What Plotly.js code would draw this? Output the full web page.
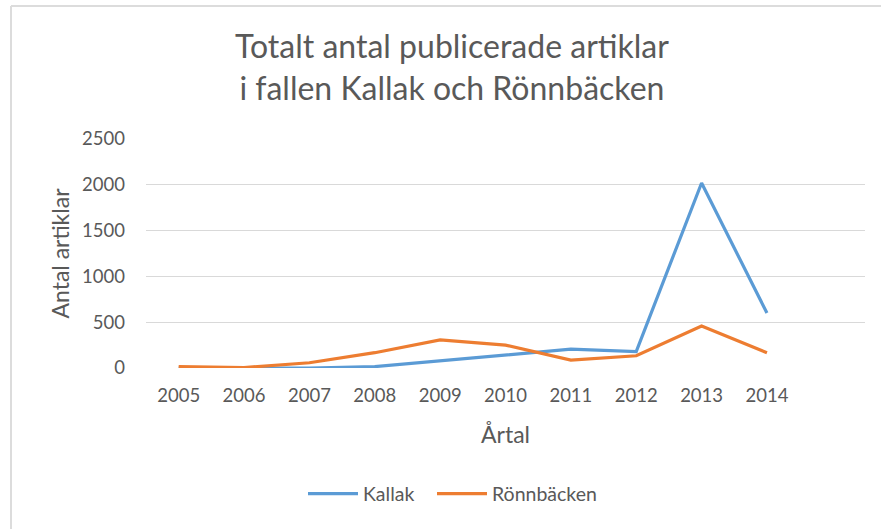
<!DOCTYPE html>
<html>
<head>
<meta charset="utf-8">
<script src="https://cdn.plot.ly/plotly-3.0.1.min.js"></script>
<style>
  html, body { margin: 0; padding: 0; background: #ffffff; }
  #chart { width: 881px; height: 529px; }
</style>
</head>
<body>
<div id="chart"></div>
<script>
const years = [2005, 2006, 2007, 2008, 2009, 2010, 2011, 2012, 2013, 2014];
const kallak = [0, 0, 0, 15, 80, 140, 205, 180, 2020, 600];
const ronnbacken = [15, 5, 57, 167, 306, 250, 87, 134, 458, 167];
const yTicks = [0, 500, 1000, 1500, 2000, 2500];

const FONT = 'Lato, "Open Sans", sans-serif';
const GRAY = '#595959';

const traces = [
  { x: years, y: kallak, name: 'Kallak', type: 'scatter', mode: 'lines',
    line: { color: '#5B9BD5', width: 3.2 }, legend: 'legend' },
  { x: years, y: ronnbacken, name: 'Rönnbäcken', type: 'scatter', mode: 'lines',
    line: { color: '#ED7D31', width: 3.2 }, legend: 'legend2' }
];

const legendStyle = {
  orientation: 'h', xanchor: 'left', y: -0.55, yanchor: 'middle',
  font: { family: FONT, size: 19.5, color: GRAY }, itemwidth: 50
};

const layout = {
  width: 881, height: 529,
  margin: { l: 146, r: 16, t: 139, b: 161 },
  paper_bgcolor: '#ffffff', plot_bgcolor: '#ffffff',
  font: { family: FONT, color: GRAY, size: 18 },
  title: {
    text: 'Totalt antal publicerade artiklar<br>i fallen Kallak och Rönnbäcken',
    font: { family: FONT, size: 32, color: '#595959' },
    x: 0.513, xanchor: 'center', y: 0.89, yanchor: 'top'
  },
  xaxis: {
    range: [2004.5, 2015.5],
    tickvals: years, ticktext: years.map(String),
    showgrid: false, zeroline: false, showline: false, ticks: '',
    ticklabelstandoff: 14,
    tickfont: { family: FONT, size: 18.5, color: GRAY },
    title: { text: 'Årtal', font: { family: FONT, size: 23, color: GRAY }, standoff: 22 }
  },
  yaxis: {
    range: [0, 2500], tickvals: yTicks,
    showgrid: true, gridcolor: '#d9d9d9', gridwidth: 1,
    zeroline: false, showline: false, ticks: '',
    ticklabelstandoff: 20,
    tickfont: { family: FONT, size: 18.5, color: GRAY },
    title: { text: 'Antal artiklar', font: { family: FONT, size: 23, color: GRAY }, standoff: 6 }
  },
  showlegend: true,
  legend: Object.assign({}, legendStyle, { x: (303 - 146) / 719 }),
  legend2: Object.assign({}, legendStyle, { x: (432 - 146) / 719 }),
  shapes: [
    { type: 'line', xref: 'paper', yref: 'paper',
      x0: (11 - 146) / 719, x1: (11 - 146) / 719, y0: 362 / 229, y1: -170 / 229,
      line: { color: '#dcdcdc', width: 2 } },
    { type: 'line', xref: 'paper', yref: 'paper',
      x0: (11 - 146) / 719, x1: (890 - 146) / 719, y0: 362 / 229, y1: 362 / 229,
      line: { color: '#dcdcdc', width: 2 } }
  ]
};

Plotly.newPlot('chart', traces, layout, { displayModeBar: false, staticPlot: true });
</script>
</body>
</html>
